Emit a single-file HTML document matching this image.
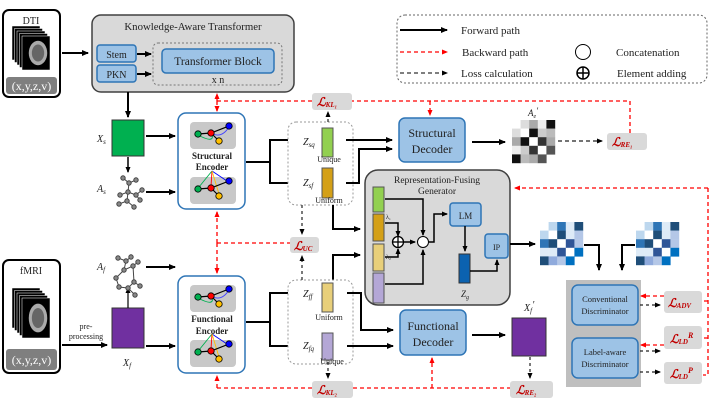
<!DOCTYPE html>
<html><head><meta charset="utf-8"><style>
html,body{margin:0;padding:0;background:#fff}
svg{display:block}
text{font-family:"Liberation Serif","DejaVu Serif",serif;fill:#222}
.l{font-family:"Liberation Serif",serif;font-style:italic;font-weight:bold;fill:#c00000}
</style></head><body>
<svg id="s" width="711" height="417" viewBox="0 0 711 417" xmlns="http://www.w3.org/2000/svg">
<defs>
<marker id="ab" markerWidth="8" markerHeight="8" refX="6" refY="3" orient="auto" markerUnits="userSpaceOnUse"><path d="M0,0 L7,3 L0,6 z" fill="#000"/></marker>
<marker id="ar" markerWidth="8" markerHeight="8" refX="5" refY="2.5" orient="auto" markerUnits="userSpaceOnUse"><path d="M0,0 L6,2.5 L0,5 z" fill="#f00"/></marker>
<marker id="ak" markerWidth="8" markerHeight="8" refX="5" refY="2.5" orient="auto" markerUnits="userSpaceOnUse"><path d="M0,0 L6,2.5 L0,5 z" fill="#000"/></marker>
</defs>
<!-- Legend -->
<rect x="397" y="15" width="310" height="68" rx="8" fill="none" stroke="#666" stroke-dasharray="2,2"/>
<line x1="400" y1="30" x2="447" y2="30" stroke="#000" stroke-width="2" marker-end="url(#ab)"/>
<line x1="400" y1="52" x2="447" y2="52" stroke="#f00" stroke-width="1.2" stroke-dasharray="4,3" marker-end="url(#ar)"/>
<line x1="400" y1="73" x2="447" y2="73" stroke="#333" stroke-width="1.2" stroke-dasharray="4,3" marker-end="url(#ak)"/>
<text x="461" y="34" font-size="11">Forward  path</text>
<text x="462" y="56" font-size="11">Backward  path</text>
<text x="461" y="77" font-size="11">Loss  calculation</text>
<circle cx="583" cy="52" r="7.5" fill="#fff" stroke="#000"/>
<circle cx="583" cy="73" r="6" fill="#fff" stroke="#000" stroke-width="1.5"/>
<line x1="577" y1="73" x2="589" y2="73" stroke="#000" stroke-width="1.5"/><line x1="583" y1="67" x2="583" y2="79" stroke="#000" stroke-width="1.5"/>
<text x="616" y="56" font-size="11">Concatenation</text>
<text x="617" y="77" font-size="11">Element  adding</text>

<!-- DTI -->
<rect x="3" y="10" width="57" height="87" rx="6" fill="#fff" stroke="#000" stroke-width="2"/>
<text x="31" y="24" font-size="10" text-anchor="middle">DTI</text>
<g id="brain1"></g>
<rect x="6" y="77" width="51" height="17" rx="3" fill="#7f7f7f"/>
<text x="31.5" y="90" font-size="12" text-anchor="middle" style="fill:#fff">(x,y,z,v)</text>
<line x1="62" y1="53" x2="88" y2="53" stroke="#000" stroke-width="2" marker-end="url(#ab)"/>

<!-- KAT -->
<rect x="92" y="15" width="202" height="77" rx="9" fill="#d9d9d9" stroke="#404040" stroke-width="1.5"/>
<text x="193" y="30" font-size="10.8" text-anchor="middle">Knowledge-Aware Transformer</text>
<rect x="97" y="45" width="39" height="17" rx="3" fill="#9dc3e6" stroke="#2e75b6" stroke-width="1.5"/>
<text x="116.5" y="58" font-size="10" text-anchor="middle">Stem</text>
<rect x="97" y="65" width="39" height="17" rx="3" fill="#9dc3e6" stroke="#2e75b6" stroke-width="1.5"/>
<text x="116.5" y="78" font-size="10" text-anchor="middle">PKN</text>
<line x1="137" y1="54" x2="151" y2="54" stroke="#000" stroke-width="2" marker-end="url(#ab)"/>
<line x1="137" y1="74" x2="151" y2="74" stroke="#000" stroke-width="2" marker-end="url(#ab)"/>
<rect x="153" y="43" width="129" height="42" rx="5" fill="none" stroke="#777" stroke-dasharray="2,2"/>
<rect x="162" y="49" width="112" height="24" rx="4" fill="#9dc3e6" stroke="#2e75b6" stroke-width="1.5"/>
<text x="218" y="65" font-size="11.5" text-anchor="middle">Transformer Block</text>
<text x="218" y="83" font-size="10" text-anchor="middle">x n</text>
<line x1="128" y1="92" x2="128" y2="117" stroke="#000" stroke-width="2" marker-end="url(#ab)"/>

<!-- Xs, As -->
<rect x="112" y="120" width="32" height="36" fill="#00b050" stroke="#333"/>
<text x="97" y="142" font-size="10" font-style="italic">X<tspan font-size="7" dy="2">s</tspan></text>
<line x1="128" y1="157" x2="128" y2="172" stroke="#000" stroke-width="1.5" marker-end="url(#ak)"/>
<text x="97" y="192" font-size="10" font-style="italic">A<tspan font-size="7" dy="2">s</tspan></text>
<g stroke="#444" stroke-width="1" fill="#888">
<path d="M123,178 L129,183 L136,180 M129,183 L128,192 L120,195 M128,192 L136,195 L142,190 M128,192 L127,201 L119,204 M127,201 L134,207 M136,195 L140,200" fill="none"/>
<circle cx="123" cy="178" r="2.2"/><circle cx="129" cy="183" r="2.2"/><circle cx="136" cy="180" r="2.2"/><circle cx="128" cy="192" r="2.2"/><circle cx="120" cy="195" r="2.2"/><circle cx="136" cy="195" r="2.2"/><circle cx="142" cy="190" r="2.2"/><circle cx="127" cy="201" r="2.2"/><circle cx="119" cy="204" r="2.2"/><circle cx="134" cy="207" r="2.2"/><circle cx="140" cy="200" r="2.2"/>
</g>
<line x1="146" y1="136" x2="175" y2="136" stroke="#000" stroke-width="2" marker-end="url(#ab)"/>
<line x1="146" y1="192" x2="175" y2="192" stroke="#000" stroke-width="2" marker-end="url(#ab)"/>

<!-- Structural encoder -->
<rect x="178" y="113" width="67" height="96" rx="8" fill="#fff" stroke="#2e75b6" stroke-width="1.5"/>
<g id="enc1"></g>
<text x="212" y="159" font-size="9" font-weight="bold" text-anchor="middle">Structural</text>
<text x="212" y="170" font-size="9" font-weight="bold" text-anchor="middle">Encoder</text>

<path d="M246,162 H270 V140 H296 M270,162 V183 H296" fill="none" stroke="#000" stroke-width="2"/>
<path d="M288,140 H296 M288,183 H296" stroke="#000" stroke-width="2" marker-end="url(#ab)"/>
<rect x="288" y="122" width="65" height="83" rx="8" fill="#fff" stroke="#999" stroke-dasharray="2,2"/>
<text x="303" y="145" font-size="10" font-style="italic">Z<tspan font-size="7" dy="2">sq</tspan></text>
<rect x="322" y="128" width="11" height="29" fill="#92d050" stroke="#555"/>
<text x="329" y="162" font-size="8" text-anchor="middle">Unique</text>
<text x="303" y="186" font-size="10" font-style="italic">Z<tspan font-size="7" dy="2">sf</tspan></text>
<rect x="322" y="168" width="11" height="30" fill="#d4a017" stroke="#555"/>
<text x="329" y="203" font-size="8" text-anchor="middle">Uniform</text>

<path d="M346,140 H392" stroke="#000" stroke-width="2" marker-end="url(#ab)"/>
<path d="M346,183 H359 V149 H392" fill="none" stroke="#000" stroke-width="2" marker-end="url(#ab)"/>
<rect x="399" y="118" width="66" height="44" rx="6" fill="#9dc3e6" stroke="#2e75b6" stroke-width="1.5"/>
<text x="432" y="137" font-size="12" text-anchor="middle">Structural</text>
<text x="432" y="153" font-size="12" text-anchor="middle">Decoder</text>
<line x1="472" y1="142" x2="505" y2="142" stroke="#000" stroke-width="2" marker-end="url(#ab)"/>
<g id="ae"></g>
<text x="528" y="116" font-size="9" font-style="italic">A<tspan font-size="6" dy="2">e</tspan><tspan dy="-4">'</tspan></text>
<line x1="558" y1="141" x2="602" y2="141" stroke="#222" stroke-width="1.2" stroke-dasharray="4,3" marker-end="url(#ak)"/>

<!-- Generator -->
<rect x="365" y="170" width="145" height="135" rx="13" fill="#d9d9d9" stroke="#404040" stroke-width="1.5"/>
<text x="437" y="183" font-size="9.5" text-anchor="middle">Representation-Fusing</text>
<text x="437" y="194" font-size="9.5" text-anchor="middle">Generator</text>
<rect x="373" y="187" width="11" height="25" fill="#92d050" stroke="#555"/>
<rect x="373" y="214" width="11" height="27" fill="#d4a017" stroke="#555"/>
<rect x="373" y="244" width="11" height="27" fill="#e8cf7a" stroke="#555"/>
<rect x="373" y="273" width="11" height="30" fill="#b4a7d6" stroke="#555"/>
<path d="M385,199 H423 V235" fill="none" stroke="#000" stroke-width="1.5" marker-end="url(#ak)"/>
<path d="M385,223 H398 V236" fill="none" stroke="#000" stroke-width="1.5" marker-end="url(#ak)"/>
<path d="M385,257 H398 V249" fill="none" stroke="#000" stroke-width="1.5" marker-end="url(#ak)"/>
<path d="M385,284 H423 V250" fill="none" stroke="#000" stroke-width="1.5" marker-end="url(#ak)"/>
<text x="386" y="219" font-size="6">λ₁</text><text x="386" y="259" font-size="6">λ₂</text>
<circle cx="398" cy="242" r="5.5" fill="#fff" stroke="#000" stroke-width="1.3"/>
<line x1="392.5" y1="242" x2="403.5" y2="242" stroke="#000" stroke-width="1.3"/><line x1="398" y1="236.5" x2="398" y2="247.5" stroke="#000" stroke-width="1.3"/>
<line x1="404" y1="242" x2="415" y2="242" stroke="#000" stroke-width="1.5" marker-end="url(#ak)"/>
<circle cx="423" cy="242" r="5.5" fill="#fff" stroke="#000"/>
<path d="M429,242 H434 V214 H447" fill="none" stroke="#000" stroke-width="1.5" marker-end="url(#ak)"/>
<rect x="450" y="203" width="31" height="23" rx="3" fill="#9dc3e6" stroke="#2e75b6" stroke-width="1.5"/>
<text x="465.5" y="219" font-size="9" text-anchor="middle">LM</text>
<line x1="465" y1="226" x2="465" y2="251" stroke="#000" stroke-width="1.5" marker-end="url(#ak)"/>
<rect x="459" y="254" width="11" height="29" fill="#0b62b0" stroke="#333"/>
<text x="461" y="297" font-size="9" font-style="italic">Z<tspan font-size="6" dy="2">g</tspan></text>
<path d="M470,271 H497 V260" fill="none" stroke="#000" stroke-width="1.5" marker-end="url(#ak)"/>
<rect x="485" y="234" width="23" height="24" rx="3" fill="#9dc3e6" stroke="#2e75b6" stroke-width="1.5"/>
<text x="496.5" y="250" font-size="8" text-anchor="middle">IP</text>
<line x1="510" y1="244" x2="535" y2="244" stroke="#000" stroke-width="2" marker-end="url(#ab)"/>

<path d="M333,205 V229 H360" fill="none" stroke="#000" stroke-width="2" marker-end="url(#ab)"/>
<path d="M333,281 V255 H360" fill="none" stroke="#000" stroke-width="2" marker-end="url(#ab)"/>

<g id="bm"></g>
<path d="M584,245 H599 V270" fill="none" stroke="#000" stroke-width="2" marker-end="url(#ab)"/>
<path d="M635,245 H622 V270" fill="none" stroke="#000" stroke-width="2" marker-end="url(#ab)"/>

<!-- Discriminators -->
<rect x="566" y="280" width="75" height="107" fill="#bfbfbf"/>
<rect x="572" y="285" width="66" height="40" rx="6" fill="#9dc3e6" stroke="#2e75b6" stroke-width="1.5"/>
<text x="605" y="302" font-size="8.5" text-anchor="middle">Conventional</text>
<text x="605" y="314" font-size="8.5" text-anchor="middle">Discriminator</text>
<rect x="572" y="338" width="66" height="40" rx="6" fill="#9dc3e6" stroke="#2e75b6" stroke-width="1.5"/>
<text x="605" y="355" font-size="8.5" text-anchor="middle">Label-aware</text>
<text x="605" y="367" font-size="8.5" text-anchor="middle">Discriminator</text>

<!-- fMRI -->
<rect x="3" y="260" width="57" height="113" rx="6" fill="#fff" stroke="#000" stroke-width="2"/>
<text x="31" y="274" font-size="10" text-anchor="middle">fMRI</text>
<g id="brain2"></g>
<rect x="6" y="349" width="51" height="21" rx="3" fill="#7f7f7f"/>
<text x="31.5" y="364" font-size="12" text-anchor="middle" style="fill:#fff">(x,y,z,v)</text>
<text x="86" y="329" font-size="8" text-anchor="middle">pre-</text>
<text x="86" y="339" font-size="8" text-anchor="middle">processing</text>
<line x1="62" y1="345" x2="107" y2="345" stroke="#000" stroke-width="2" marker-end="url(#ab)"/>
<rect x="112" y="308" width="32" height="40" fill="#7030a0" stroke="#333"/>
<text x="123" y="366" font-size="10" font-style="italic">X<tspan font-size="7" dy="2">f</tspan></text>
<line x1="128" y1="308" x2="128" y2="288" stroke="#000" stroke-width="1.2" marker-end="url(#ak)"/>
<text x="97" y="270" font-size="10" font-style="italic">A<tspan font-size="7" dy="2">f</tspan></text>
<g stroke="#444" stroke-width="1" fill="#888">
<path d="M118,258 L126,261 L124,270 L133,266 L138,262 M124,270 L116,278 L119,287 L128,288 L134,282 L140,286 M133,266 L134,282 M128,288 L135,295 M126,261 L131,257" fill="none"/>
<circle cx="118" cy="258" r="2.2"/><circle cx="126" cy="261" r="2.2"/><circle cx="131" cy="257" r="2.2"/><circle cx="124" cy="270" r="2.2"/><circle cx="133" cy="266" r="2.2"/><circle cx="138" cy="262" r="2.2"/><circle cx="116" cy="278" r="2.2"/><circle cx="119" cy="287" r="2.2"/><circle cx="128" cy="288" r="2.2"/><circle cx="134" cy="282" r="2.2"/><circle cx="140" cy="286" r="2.2"/><circle cx="135" cy="295" r="2.2"/>
</g>
<line x1="146" y1="267" x2="175" y2="267" stroke="#000" stroke-width="2" marker-end="url(#ab)"/>
<line x1="146" y1="346" x2="175" y2="346" stroke="#000" stroke-width="2" marker-end="url(#ab)"/>

<rect x="178" y="276" width="67" height="97" rx="8" fill="#fff" stroke="#2e75b6" stroke-width="1.5"/>
<g id="enc2"></g>
<text x="212" y="322" font-size="9" font-weight="bold" text-anchor="middle">Functional</text>
<text x="212" y="334" font-size="9" font-weight="bold" text-anchor="middle">Encoder</text>

<path d="M246,322 H270 V293 H296 M270,322 V346 H296" fill="none" stroke="#000" stroke-width="2"/>
<path d="M288,293 H296 M288,346 H296" stroke="#000" stroke-width="2" marker-end="url(#ab)"/>
<rect x="288" y="280" width="65" height="84" rx="8" fill="#fff" stroke="#999" stroke-dasharray="2,2"/>
<text x="303" y="297" font-size="10" font-style="italic">Z<tspan font-size="7" dy="2">ff</tspan></text>
<rect x="322" y="283" width="11" height="29" fill="#e8cf7a" stroke="#555"/>
<text x="329" y="320" font-size="8" text-anchor="middle">Uniform</text>
<text x="303" y="349" font-size="10" font-style="italic">Z<tspan font-size="7" dy="2">fq</tspan></text>
<rect x="322" y="333" width="11" height="27" fill="#b4a7d6" stroke="#555"/>
<text x="332" y="364" font-size="8" text-anchor="middle">Unique</text>

<path d="M347,293 H361 V330 H393" fill="none" stroke="#000" stroke-width="2" marker-end="url(#ab)"/>
<path d="M347,346 H393" stroke="#000" stroke-width="2" marker-end="url(#ab)"/>
<rect x="400" y="310" width="66" height="45" rx="6" fill="#9dc3e6" stroke="#2e75b6" stroke-width="1.5"/>
<text x="433" y="330" font-size="12" text-anchor="middle">Functional</text>
<text x="433" y="346" font-size="12" text-anchor="middle">Decoder</text>
<line x1="472" y1="335" x2="505" y2="335" stroke="#000" stroke-width="2" marker-end="url(#ab)"/>
<rect x="512" y="318" width="34" height="38" fill="#7030a0" stroke="#333"/>
<text x="524" y="311" font-size="10" font-style="italic">X<tspan font-size="7" dy="2">f</tspan><tspan dy="-5">'</tspan></text>

<g stroke="#222" stroke-width="1.2" stroke-dasharray="3,3" fill="none" marker-end="url(#ak)">
<path d="M328,122 V112"/>
<path d="M302,205 V234"/>
<path d="M302,280 V256"/>
<path d="M328,362 V378"/>
<path d="M530,357 V378"/>
<path d="M640,305 H660"/>
<path d="M640,351 H660"/>
<path d="M640,372 H660"/>
</g>

<g stroke="#f00" stroke-width="1.3" stroke-dasharray="4,3" fill="none">
<path d="M217,101 H630 V133"/>
<path d="M217,101 V94" marker-end="url(#ar)"/>
<path d="M217,101 V111" marker-end="url(#ar)"/>
<path d="M430,101 V115" marker-end="url(#ar)"/>
<path d="M217,243 H290"/>
<path d="M217,243 V212" marker-end="url(#ar)"/>
<path d="M217,243 V273" marker-end="url(#ar)"/>
<path d="M708,188 H515" marker-end="url(#ar)"/>
<path d="M708,188 V375 H703"/>
<path d="M708,301 H703 M708,338 H703"/>
<path d="M664,296 H641" marker-end="url(#ar)"/>
<path d="M664,345 H641" marker-end="url(#ar)"/>
<path d="M217,388 V376" marker-end="url(#ar)"/>
<path d="M217,388 H312 M353,388 H510"/>
<path d="M432,388 V358" marker-end="url(#ar)"/>
</g>

<g fill="#d9d9d9">
<rect x="312" y="93" width="40" height="17" rx="3"/>
<rect x="607" y="133" width="40" height="17" rx="3"/>
<rect x="290" y="237" width="29" height="16" rx="3"/>
<rect x="312" y="381" width="41" height="17" rx="3"/>
<rect x="510" y="381" width="43" height="17" rx="3"/>
<rect x="664" y="291" width="38" height="22" rx="3"/>
<rect x="664" y="326" width="38" height="23" rx="3"/>
<rect x="664" y="362" width="38" height="22" rx="3"/>
</g>
<text class="l" x="317" y="106" font-size="12">ℒ<tspan font-size="7" dy="1">KL₁</tspan></text>
<text class="l" x="612" y="146" font-size="12">ℒ<tspan font-size="7" dy="1">RE₁</tspan></text>
<text class="l" x="294" y="250" font-size="12">ℒ<tspan font-size="7" dy="1">UC</tspan></text>
<text class="l" x="317" y="394" font-size="12">ℒ<tspan font-size="7" dy="1">KL₂</tspan></text>
<text class="l" x="516" y="394" font-size="12">ℒ<tspan font-size="7" dy="1">RE₂</tspan></text>
<text class="l" x="668" y="307" font-size="12">ℒ<tspan font-size="7" dy="1">ADV</tspan></text>
<text class="l" x="670" y="343" font-size="12">ℒ<tspan font-size="7" dy="1">LD</tspan><tspan font-size="8" dy="-6">R</tspan></text>
<text class="l" x="670" y="378" font-size="12">ℒ<tspan font-size="7" dy="1">LD</tspan><tspan font-size="8" dy="-6">P</tspan></text>
</svg>
<script>
var NS="http://www.w3.org/2000/svg";
function el(p,t,a){var e=document.createElementNS(NS,t);for(var k in a)e.setAttribute(k,a[k]);document.getElementById(p).appendChild(e);return e;}
function mat(id,x,y,c,cols){for(var r=0;r<5;r++)for(var q=0;q<5;q++){var v=cols[r][q];if(v)el(id,"rect",{x:x+q*c,y:y+r*c,width:c+0.2,height:c+0.2,fill:v});}}
var W="#fff";
mat("ae",512,120,8.6,[[0,"#ddd","#aaa","#eee","#111"],["#ddd",W,"#111","#ccc","#bbb"],["#aaa","#111",W,"#333","#aaa"],["#eee","#ccc","#333",W,"#555"],["#111","#bbb","#aaa","#555",0]]);
var B=[[0,"#bdd7ee","#2e75b6","#deebf7","#1f4e79"],["#bdd7ee",W,"#1f4e79","#deebf7","#b4c7e7"],["#2e75b6","#1f4e79",W,"#2f5597","#b4c7e7"],["#deebf7","#deebf7","#2f5597",W,"#0070c0"],["#1f4e79","#8faadc","#b4c7e7","#0070c0",0]];
mat("bm",540,222,8.6,B);mat("bm",636,222,8.6,B);
function brain(id,x0,y0,w,h){for(var i=0;i<5;i++){var x=x0+i*2.5,y=y0+i*2.5;el(id,"rect",{x:x,y:y,width:w,height:h,fill:"#000",stroke:"#fff","stroke-width":0.5});}
var x=x0+10,y=y0+10;el(id,"ellipse",{cx:x+w/2+2,cy:y+h/2,rx:w*0.33,ry:h*0.36,fill:"#aaa"});el(id,"ellipse",{cx:x+w/2+2,cy:y+h/2,rx:w*0.22,ry:h*0.25,fill:"#666"});}
brain("brain1",12,26,28,34);brain("brain2",12,288,28,40);
function enc(id,y,top){el(id,"rect",{x:190,y:y,width:46,height:27,rx:4,fill:"#c8c8c8"});
var g=[[198,y+12,"#00b050"],[211,y+11,"#f00"],[229,y+4,"#00f"],[219,y+19,"#ffc000"]];
if(top){el(id,"path",{d:"M212,"+(y+12)+" Q215,"+(y+22)+" 198,"+(y+13),stroke:"#00b050","stroke-width":0.9,fill:"none"});
el(id,"path",{d:"M213,"+(y+12)+" Q222,"+(y+16)+" 229,"+(y+5),stroke:"#4040ff","stroke-width":0.9,fill:"none"});}
else{[["#00b050",199,y+10],["#f00",211,y+9],["#00f",227,y+4],["#ffc000",219,y+17]].forEach(function(a){el(id,"path",{d:"M212,"+(y-6)+" L"+a[1]+","+a[2],stroke:a[0],"stroke-width":0.9,fill:"none"});});}
el(id,"path",{d:"M198,"+(y+12)+" L211,"+(y+11)+" L229,"+(y+4)+" M211,"+(y+11)+" L219,"+(y+19),stroke:"#000","stroke-width":1.2,fill:"none"});
g.forEach(function(n){el(id,"circle",{cx:n[0],cy:n[1],r:3.2,fill:n[2],stroke:"#000","stroke-width":0.8});});}
enc("enc1",122,true);enc("enc1",177,false);enc("enc2",285,true);enc("enc2",340,false);
</script>
</body></html>
